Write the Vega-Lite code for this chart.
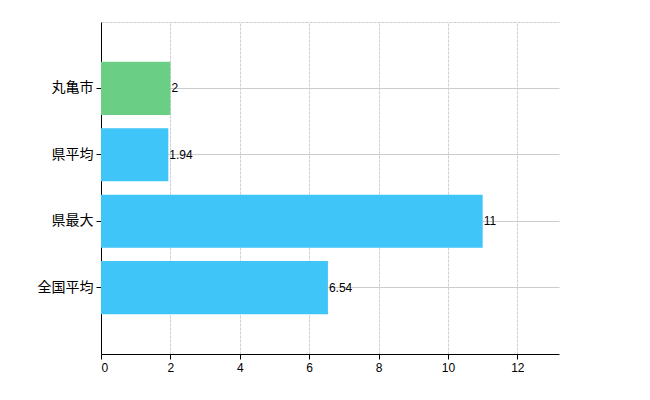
{
  "$schema": "https://vega.github.io/schema/vega-lite/v6.json",
  "width": 458,
  "height": 332,
  "autosize": "none",
  "padding": {"left": 101, "top": 22, "right": 91, "bottom": 46},
  "background": "white",
  "config": {"view": {"stroke": null}},
  "data": {"values": [
    {"name": "丸亀市", "value": 2, "kind": "city"},
    {"name": "県平均", "value": 1.94, "kind": "ref"},
    {"name": "県最大", "value": 11, "kind": "ref"},
    {"name": "全国平均", "value": 6.54, "kind": "ref"}
  ]},
  "resolve": {"scale": {"x": "independent"}, "axis": {"x": "independent"}},
  "layer": [
    {
      "layer": [
        {
          "mark": {"type": "bar"},
          "encoding": {
            "y": {"field": "name", "type": "nominal", "sort": null,
              "scale": {"paddingInner": 0.2, "paddingOuter": 0.6},
              "axis": {"title": null, "domainColor": "#000000", "tickColor": "#000000", "tickSize": 5,
                "labelFontSize": 14, "labelColor": "#000000", "labelFont": "Noto Sans CJK JP", "labelPadding": 3,
                "grid": true, "gridColor": "#cccccc", "gridWidth": 1}},
            "x": {"field": "value", "type": "quantitative",
              "scale": {"domain": [0, 13.2], "nice": false, "zero": true},
              "axis": {"title": null, "values": [0, 2, 4, 6, 8, 10, 12], "domainColor": "#000000", "tickColor": "#000000",
                "tickSize": 5, "labelFontSize": 12, "labelColor": "#000000", "labelFont": "Liberation Sans", "labelPadding": 3,
                "grid": true, "gridColor": "#d4ccd4", "gridDash": [3, 1], "gridWidth": 1}},
            "color": {"field": "kind", "type": "nominal",
              "scale": {"domain": ["city", "ref"], "range": ["#6ACF85", "#3FC5F7"]}, "legend": null}
          }
        },
        {
          "mark": {"type": "text", "align": "left", "baseline": "middle", "dx": 1, "fontSize": 12, "font": "Liberation Sans", "color": "#000000"},
          "encoding": {
            "y": {"field": "name", "type": "nominal", "sort": null},
            "x": {"field": "value", "type": "quantitative"},
            "text": {"field": "value", "type": "quantitative"}
          }
        }
      ]
    },
    {
      "mark": {"type": "point", "opacity": 0},
      "encoding": {
        "x": {"field": "value", "type": "quantitative",
          "scale": {"domain": [0, 13.2], "nice": false},
          "axis": {"orient": "top", "title": null, "labels": false, "ticks": false, "grid": false,
            "domainColor": "#d4ccd4", "domainDash": [3, 1], "domainWidth": 1}}
      }
    }
  ]
}
